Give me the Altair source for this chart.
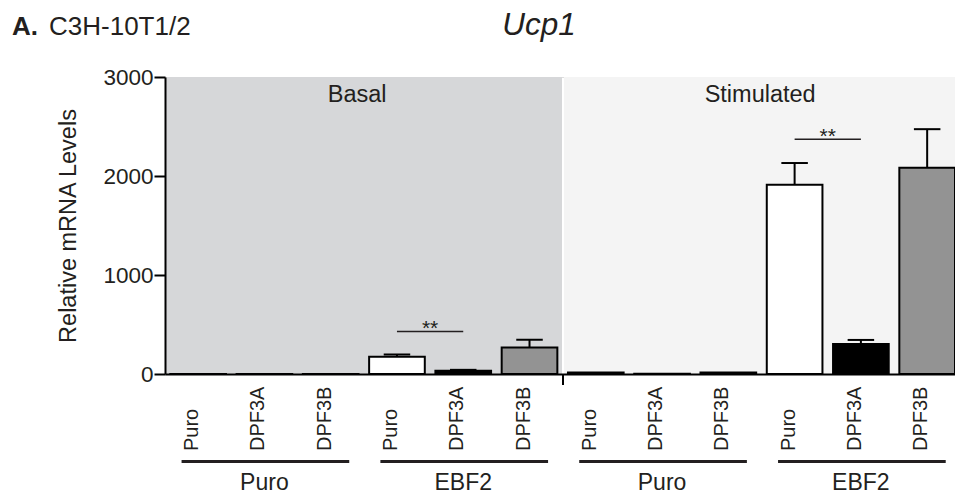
import altair as alt
import pandas as pd

# ---- data ----
conditions = ["Basal"] * 6 + ["Stimulated"] * 6
groups = ["Puro", "Puro", "Puro", "EBF2", "EBF2", "EBF2"] * 2
treatments = ["Puro", "DPF3A", "DPF3B"] * 4
means = [1, 1, 1, 175, 32, 268, 15, 2, 15, 1911, 302, 2083]
errors = [0, 0, 0, 22, 10, 78, 0, 0, 0, 220, 42, 390]

region_names = ["Basal", "Stimulated"]
group_labels = ["Puro", "EBF2", "Puro", "EBF2"]
sig_pairs = [(3, 4, 430), (9, 10, 2372)]  # bar index pair, line level

FONT = "Liberation Sans"
TXT = "#231f20"
HALF = 0.42

df = pd.DataFrame({
    "condition": conditions, "group": groups, "treatment": treatments,
    "mean": means, "err": errors,
})
df["idx"] = range(len(df))
df["x0"] = df["idx"] - HALF
df["x1"] = df["idx"] + HALF
df["zero"] = 0
df["top"] = df["mean"] + df["err"]
df["c0"] = df["idx"] - 0.2
df["c1"] = df["idx"] + 0.2
err_df = df[df["err"] > 0]

xs = alt.Scale(domain=[-0.5, 11.42], nice=False, zero=False)
ys = alt.Scale(domain=[0, 3000], nice=False)

bg = pd.DataFrame({"name": region_names, "start": [-0.5, 5.52], "end": [5.49, 11.42],
                   "lx": [2.4, 8.48], "top": [3000, 3000], "bot": [0, 0], "ly": [2745, 2745]})

background = alt.Chart(bg).mark_rect().encode(
    x=alt.X("start:Q", scale=xs, axis=alt.Axis(labels=False, ticks=False, title=None, grid=False,
                                                domainColor="black", domainWidth=2, zindex=1)),
    x2="end:Q",
    y=alt.Y("top:Q", scale=ys, axis=alt.Axis(values=[0, 1000, 2000, 3000], format="d",
                                              title="Relative mRNA Levels", titleFontSize=23.5,
                                              titleFontWeight="normal", titleColor=TXT,
                                              titleX=-97, titleY=148.5, titleAngle=270,
                                              titleAlign="center", titleBaseline="middle",
                                              labelFontSize=22.5, labelColor=TXT, labelPadding=1,
                                              tickSize=11, tickWidth=2, tickColor="black",
                                              domainColor="black", domainWidth=2,
                                              grid=False, zindex=1)),
    y2="bot:Q",
    color=alt.Color("name:N", scale=alt.Scale(domain=region_names, range=["#d6d7d9", "#f4f4f4"]),
                    legend=None),
)

region_text = alt.Chart(bg).mark_text(fontSize=23.5, font=FONT, color=TXT, baseline="alphabetic").encode(
    x=alt.X("lx:Q", scale=xs), y=alt.Y("ly:Q", scale=ys), text="name:N")

bars = alt.Chart(df).mark_bar(stroke="black", strokeWidth=2).encode(
    x=alt.X("x0:Q", scale=xs), x2="x1:Q",
    y=alt.Y("mean:Q", scale=ys), y2="zero:Q",
    fill=alt.Fill("treatment:N", scale=alt.Scale(domain=["Puro", "DPF3A", "DPF3B"],
                                                 range=["white", "black", "#939393"]), legend=None),
)

err_line = alt.Chart(err_df).mark_rule(color="black", strokeWidth=2).encode(
    x=alt.X("idx:Q", scale=xs), y=alt.Y("mean:Q", scale=ys), y2="top:Q")
err_cap = alt.Chart(err_df).mark_rule(color="black", strokeWidth=2).encode(
    x=alt.X("c0:Q", scale=xs), x2="c1:Q", y=alt.Y("top:Q", scale=ys))

sig = pd.DataFrame({"a": [p[0] for p in sig_pairs], "b": [p[1] for p in sig_pairs],
                    "lvl": [p[2] for p in sig_pairs]})
sig["mid"] = (sig["a"] + sig["b"]) / 2
sig["ty"] = sig["lvl"] - 34
sig["star"] = "**"
sig_line = alt.Chart(sig).mark_rule(color=TXT, strokeWidth=1.5).encode(
    x=alt.X("a:Q", scale=xs), x2="b:Q", y=alt.Y("lvl:Q", scale=ys))
sig_text = alt.Chart(sig).mark_text(fontSize=21, font=FONT, color=TXT, baseline="alphabetic").encode(
    x=alt.X("mid:Q", scale=xs), y=alt.Y("ty:Q", scale=ys), text="star:N")

xlabels = alt.Chart(df).mark_text(angle=270, align="left", baseline="alphabetic", fontSize=20,
                                  font=FONT, color=TXT).encode(
    x=alt.X("idx:Q", scale=xs), y=alt.value(374), text="treatment:N")

grp = pd.DataFrame({"label": group_labels, "first": [0, 3, 6, 9], "last": [2, 5, 8, 11]})
grp["u0"] = grp["first"] - 0.25
grp["u1"] = grp["last"] + 0.28
grp["mid"] = (grp["first"] + grp["last"]) / 2
underline = alt.Chart(grp).mark_rule(color=TXT, strokeWidth=3).encode(
    x=alt.X("u0:Q", scale=xs), x2="u1:Q", y=alt.value(384.5))
grp_text = alt.Chart(grp).mark_text(fontSize=23, font=FONT, color=TXT, baseline="alphabetic").encode(
    x=alt.X("mid:Q", scale=xs), y=alt.value(413), text="label:N")

sep = pd.DataFrame({"pos": [5.505]})
sep_tick = alt.Chart(sep).mark_rule(color="black", strokeWidth=2).encode(
    x=alt.X("pos:Q", scale=xs), y=alt.value(297), y2=alt.value(308))

titles = pd.DataFrame({"t": ["A."], "u": ["C3H-10T1/2"], "g": ["Ucp1"]})
t_a = alt.Chart(titles).mark_text(fontSize=26, fontWeight="bold", font=FONT, color=TXT,
                                  align="left", baseline="alphabetic").encode(
    x=alt.value(-153), y=alt.value(-42), text="t:N")
t_b = alt.Chart(titles).mark_text(fontSize=26, font=FONT, color=TXT,
                                  align="left", baseline="alphabetic").encode(
    x=alt.value(-116), y=alt.value(-42), text="u:N")
t_c = alt.Chart(titles).mark_text(fontSize=31.5, fontStyle="italic", font=FONT, color=TXT,
                                  align="center", baseline="alphabetic").encode(
    x=alt.value(374), y=alt.value(-42), text="g:N")

chart = alt.layer(
    background, region_text, bars, err_line, err_cap, sig_line, sig_text,
    xlabels, underline, grp_text, sep_tick, t_a, t_b, t_c,
).properties(
    width=790, height=297,
    autosize=alt.AutoSizeParams(type="none"),
    padding={"left": 165, "top": 77, "right": 0, "bottom": 124},
).configure_view(stroke=None).configure(font=FONT)

chart.save("out.html", embed_options={"renderer": "svg", "actions": False})
